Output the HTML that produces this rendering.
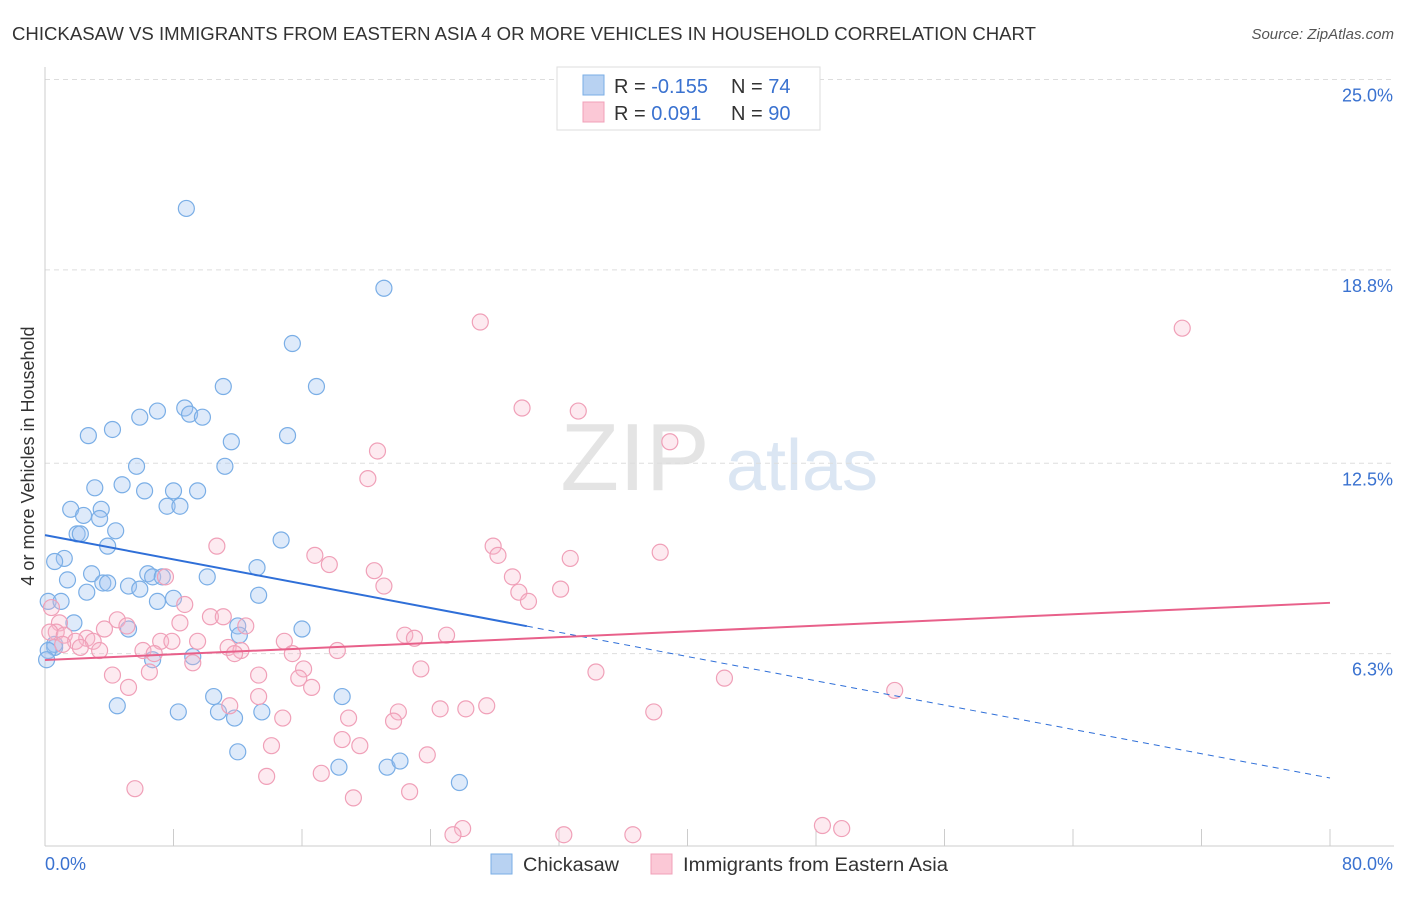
<!DOCTYPE html>
<html><head><meta charset="utf-8"><style>
body{margin:0;background:#fff;font-family:"Liberation Sans",sans-serif;}
svg text{font-family:"Liberation Sans",sans-serif;}
</style></head><body>
<svg id="chart" width="1406" height="892" xmlns="http://www.w3.org/2000/svg">
<text x="12" y="40" font-size="18" fill="#333" textLength="1024" lengthAdjust="spacingAndGlyphs">CHICKASAW VS IMMIGRANTS FROM EASTERN ASIA 4 OR MORE VEHICLES IN HOUSEHOLD CORRELATION CHART</text>
<text x="1394" y="39" font-size="15" fill="#555" text-anchor="end" font-style="italic">Source: ZipAtlas.com</text>
<text transform="translate(34,456) rotate(-90)" font-size="18" fill="#333" text-anchor="middle">4 or more Vehicles in Household</text>
<g>
<text x="635" y="490" font-size="96" fill="#e4e4e4" text-anchor="middle" font-family="Liberation Serif,serif">ZIP</text>
<text x="802" y="490" font-size="72" fill="#dbe6f3" text-anchor="middle">atlas</text>
</g>
<g id="grid"></g>
<g id="axes"></g>
<g id="pts"></g>
<g id="trends"></g>
<g>
<rect x="557" y="67" width="263" height="63" fill="#fff" stroke="#ddd"/>
<rect x="583" y="75" width="21" height="20" fill="#b8d2f2" stroke="#7aaee6"/>
<rect x="583" y="102" width="21" height="20" fill="#fbc8d6" stroke="#f0a0b8"/>
<text x="614" y="93" font-size="20" fill="#333">R = <tspan fill="#3a72d0">-0.155</tspan></text>
<text x="731" y="93" font-size="20" fill="#333">N = <tspan fill="#3a72d0"> 74</tspan></text>
<text x="614" y="120" font-size="20" fill="#333">R = <tspan fill="#3a72d0"> 0.091</tspan></text>
<text x="731" y="120" font-size="20" fill="#333">N = <tspan fill="#3a72d0">90</tspan></text>
</g>
<g>
<rect x="491" y="854" width="21" height="20" fill="#b8d2f2" stroke="#7aaee6"/>
<text x="523" y="871" font-size="19" fill="#333" textLength="96" lengthAdjust="spacingAndGlyphs">Chickasaw</text>
<rect x="651" y="854" width="21" height="20" fill="#fbc8d6" stroke="#f0a0b8"/>
<text x="683" y="871" font-size="19" fill="#333" textLength="265" lengthAdjust="spacingAndGlyphs">Immigrants from Eastern Asia</text>
</g>
</svg>
<script>
const blueX=[8.8,21.1,15.4,11.1,16.9,8.7,7.0,9.0,9.8,5.9,4.2,2.7,11.6,15.1,5.7,11.2,4.8,3.1,6.2,8.0,9.5,1.6,2.4,3.5,3.4,7.6,8.4,2.0,2.2,4.4,3.9,14.7,1.2,0.6,2.9,6.4,6.7,7.3,1.4,13.2,10.1,3.6,3.9,5.2,2.6,5.9,0.2,1.0,7.0,8.0,13.3,12.0,1.8,5.2,12.1,16.0,0.6,9.2,6.7,10.5,18.5,4.5,8.3,10.8,11.8,13.5,12.0,18.3,21.3,22.1,25.8,0.6,0.2,0.1];
const blueY=[20.8,18.2,16.4,15.0,15.0,14.3,14.2,14.1,14.0,14.0,13.6,13.4,13.2,13.4,12.4,12.4,11.8,11.7,11.6,11.6,11.6,11.0,10.8,11.0,10.7,11.1,11.1,10.2,10.2,10.3,9.8,10.0,9.4,9.3,8.9,8.9,8.8,8.8,8.7,9.1,8.8,8.6,8.6,8.5,8.3,8.4,8.0,8.0,8.0,8.1,8.2,7.2,7.3,7.1,6.9,7.1,6.5,6.2,6.1,4.9,4.9,4.6,4.4,4.4,4.2,4.4,3.1,2.6,2.6,2.8,2.1,6.6,6.4,6.1];
const pinkX=[27.1,70.8,29.7,33.2,38.9,20.7,20.1,10.7,27.9,28.2,16.8,17.7,32.7,38.3,20.5,7.5,29.1,21.1,32.1,29.5,30.1,8.7,0.4,10.3,11.1,4.5,0.9,3.7,8.4,12.5,5.1,0.7,0.3,1.2,2.6,3.0,1.9,1.1,7.2,7.9,9.5,14.9,22.4,23.0,25.0,2.2,3.4,11.4,12.2,6.1,6.8,11.8,15.4,18.2,9.2,6.5,4.2,16.1,13.3,23.4,34.3,42.3,15.8,16.6,5.2,52.9,13.3,11.5,24.6,26.2,27.5,22.0,37.9,18.9,14.8,21.7,14.1,18.5,19.6,23.8,17.2,13.8,5.6,19.2,22.7,26.0,25.4,32.3,36.6,48.4,49.6];
const pinkY=[17.1,16.9,14.3,14.2,13.2,12.9,12.0,9.8,9.8,9.5,9.5,9.2,9.4,9.6,9.0,8.8,8.8,8.5,8.4,8.3,8.0,7.9,7.8,7.5,7.5,7.4,7.3,7.1,7.3,7.2,7.2,7.0,7.0,6.9,6.8,6.7,6.7,6.6,6.7,6.7,6.7,6.7,6.9,6.8,6.9,6.5,6.4,6.5,6.4,6.4,6.3,6.3,6.3,6.4,6.0,5.7,5.6,5.8,5.6,5.8,5.7,5.5,5.5,5.2,5.2,5.1,4.9,4.6,4.5,4.5,4.6,4.4,4.4,4.2,4.2,4.1,3.3,3.5,3.3,3.0,2.4,2.3,1.9,1.6,1.8,0.6,0.4,0.4,0.4,0.7,0.6];
const yTicks=[6.3,12.5,18.8,25.0];
const yTickLabels=["6.3%","12.5%","18.8%","25.0%"];
const xTicks=[0,8,16,24,32,40,48,56,64,72,80];
const blueTrend=[10.16,-0.0989]; // intercept, slope
const pinkTrend=[6.09,0.0233];
const blueSolidEnd=30;

const NS="http://www.w3.org/2000/svg";
const X=v=>45+v*1285/80;
const Y=v=>847-v*30.7;
function mk(tag,attrs,parent){const e=document.createElementNS(NS,tag);for(const k in attrs)e.setAttribute(k,attrs[k]);parent.appendChild(e);return e;}
const grid=document.getElementById('grid'),axes=document.getElementById('axes'),pts=document.getElementById('pts'),tr=document.getElementById('trends');
yTicks.forEach((t,i)=>{
  const l=mk('line',{x1:45,x2:1394,y1:Y(t),y2:Y(t),stroke:'#ddd','stroke-dasharray':'5,4'},grid);
  
  
  const tx=mk('text',{x:1393,y:Y(t)+22,'font-size':18,fill:'#3a72d0','text-anchor':'end'},axes);
  tx.textContent=yTickLabels[i];
  
  
});
const yax=mk('line',{x1:45,x2:45,y1:67,y2:846,stroke:'#ccc'},axes);


const xax=mk('line',{x1:45,x2:1394,y1:846,y2:846,stroke:'#ccc'},axes);


xTicks.forEach(t=>{
  const l=mk('line',{x1:X(t),x2:X(t),y1:829,y2:846,stroke:'#ccc'},axes);
  
  
});
const xl0=mk('text',{x:45,y:870,'font-size':18,fill:'#3a72d0'},axes);xl0.textContent='0.0%';


const xl1=mk('text',{x:1393,y:870,'font-size':18,fill:'#3a72d0','text-anchor':'end'},axes);xl1.textContent='80.0%';



blueX.forEach((x,i)=>{
  const c=mk('circle',{cx:X(x),cy:Y(blueY[i]),r:8,fill:'rgba(160,196,240,0.35)',stroke:'#7aaee6','stroke-width':1.2},pts);
  
  
});
pinkX.forEach((x,i)=>{
  const c=mk('circle',{cx:X(x),cy:Y(pinkY[i]),r:8,fill:'rgba(248,185,205,0.3)',stroke:'#f0a0b8','stroke-width':1.2},pts);
  
  
});
const bt=v=>blueTrend[0]+blueTrend[1]*v, pt=v=>pinkTrend[0]+pinkTrend[1]*v;
const b1=mk('line',{x1:X(0),y1:Y(bt(0)),x2:X(blueSolidEnd),y2:Y(bt(blueSolidEnd)),stroke:'#2f6fd8','stroke-width':2},tr);


const b2=mk('line',{x1:X(blueSolidEnd),y1:Y(bt(blueSolidEnd)),x2:X(80),y2:Y(bt(80)),stroke:'#2f6fd8','stroke-width':1,'stroke-dasharray':'6,5'},tr);


const p1=mk('line',{x1:X(0),y1:Y(pt(0)),x2:X(80),y2:Y(pt(80)),stroke:'#e8608a','stroke-width':2},tr);


</script>
</body></html>
